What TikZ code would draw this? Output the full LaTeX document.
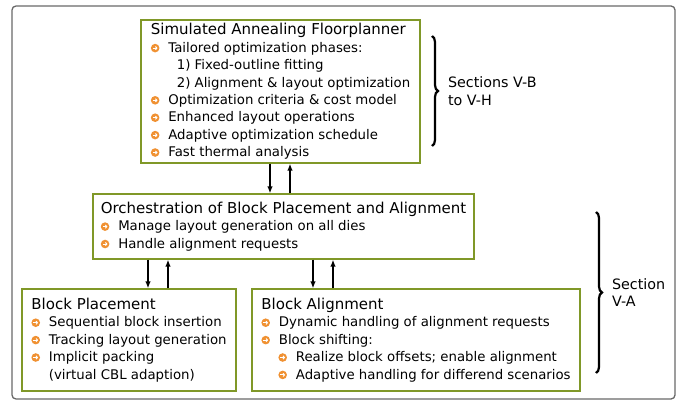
\documentclass[tikz,border=0pt]{standalone}
\usepackage{fontspec}
\setmainfont{DejaVu Sans}
\usepackage{xcolor}
\usepackage{tikz}
\usetikzlibrary{arrows.meta,decorations.pathreplacing}
\definecolor{olive}{RGB}{128,152,40}
\definecolor{bulorange}{RGB}{240,145,50}
\definecolor{framegray}{RGB}{105,105,105}

\newcommand{\obul}{\tikz[baseline=-4.2pt]{\fill[bulorange] (4.3pt,0) circle (4.3pt); \draw[white, line width=1pt, -{Straight Barb[length=1.4pt,width=3.2pt]}] (2pt,0) -- (6.7pt,0);}}
\newcommand{\itm}[1]{\makebox[17.5pt][l]{\obul}#1}
\newcommand{\ttl}[1]{{\fontsize{15}{17.4}\selectfont #1}}

\tikzset{
  box/.style={draw=olive, line width=1.2pt, fill=white, align=left, inner sep=0pt, font=\fontsize{13.3}{17.4}\selectfont},
  arr/.style={line width=1.6pt, -{Latex[length=7pt,width=5.5pt]}},
  brc/.style={decorate, decoration={brace, amplitude=6pt}, line width=2.2pt},
  lbl/.style={align=left, inner sep=0pt, anchor=west, font=\fontsize{14.3}{17.4}\selectfont}
}

\begin{document}
\begin{tikzpicture}[x=1pt, y=-1pt]
    \useasboundingbox (0,0) rectangle (683,401);
    \draw[framegray, line width=1.3pt, rounded corners=4pt] (12,6) rectangle (675,399);

    \node[box, minimum width=279pt, minimum height=143pt] (sa) at (280.5,91.5) {%
        \ttl{Simulated Annealing Floorplanner}\\
        \itm{Tailored optimization phases:}\\
        \hspace*{26pt}1) Fixed-outline fitting\\
        \hspace*{26pt}2) Alignment \& layout optimization\\
        \itm{Optimization criteria \& cost model}\\
        \itm{Enhanced layout operations}\\
        \itm{Adaptive optimization schedule}\\
        \itm{Fast thermal analysis}};
    \node[box, minimum width=381pt, minimum height=65pt] (orch) at (283.5,226.5) {%
        \ttl{Orchestration of Block Placement and Alignment}\\
        \itm{Manage layout generation on all dies}\\
        \itm{Handle alignment requests}};
    \node[box, minimum width=214pt, minimum height=102pt] (bp) at (129,340) {%
        \ttl{Block Placement}\\
        \itm{Sequential block insertion}\\
        \itm{Tracking layout generation}\\
        \itm{Implicit packing}\\
        \hspace*{17.5pt}(virtual CBL adaption)};
    \node[box, minimum width=328pt, minimum height=102pt] (ba) at (416,340) {%
        \ttl{Block Alignment}\\
        \itm{Dynamic handling of alignment requests}\\
        \itm{Block shifting:}\\
        \hspace*{17pt}\itm{Realize block offsets; enable alignment}\\
        \hspace*{17pt}\itm{Adaptive handling for differend scenarios}};

    \draw[arr] ([xshift=-10.5pt]sa.south) -- ([xshift=-10.5pt]sa.south |- orch.north);
    \draw[arr] ([xshift=9.5pt]sa.south |- orch.north) -- ([xshift=9.5pt]sa.south);
    \draw[arr] ([xshift=19pt]bp.north |- orch.south) -- ([xshift=19pt]bp.north);
    \draw[arr] ([xshift=39pt]bp.north) -- ([xshift=39pt]bp.north |- orch.south);
    \draw[arr] ([xshift=-103pt]ba.north |- orch.south) -- ([xshift=-103pt]ba.north);
    \draw[arr] ([xshift=-83pt]ba.north) -- ([xshift=-83pt]ba.north |- orch.south);

    \draw[brc] (432,36) -- (432,146) node[lbl, midway, xshift=15pt] (secbh) {Sections V-B\\to V-H};
    \draw[brc] (596,212) -- (596,373) node[lbl, midway, xshift=15pt] (seca) {Section\\V-A};
\end{tikzpicture}
\end{document}
